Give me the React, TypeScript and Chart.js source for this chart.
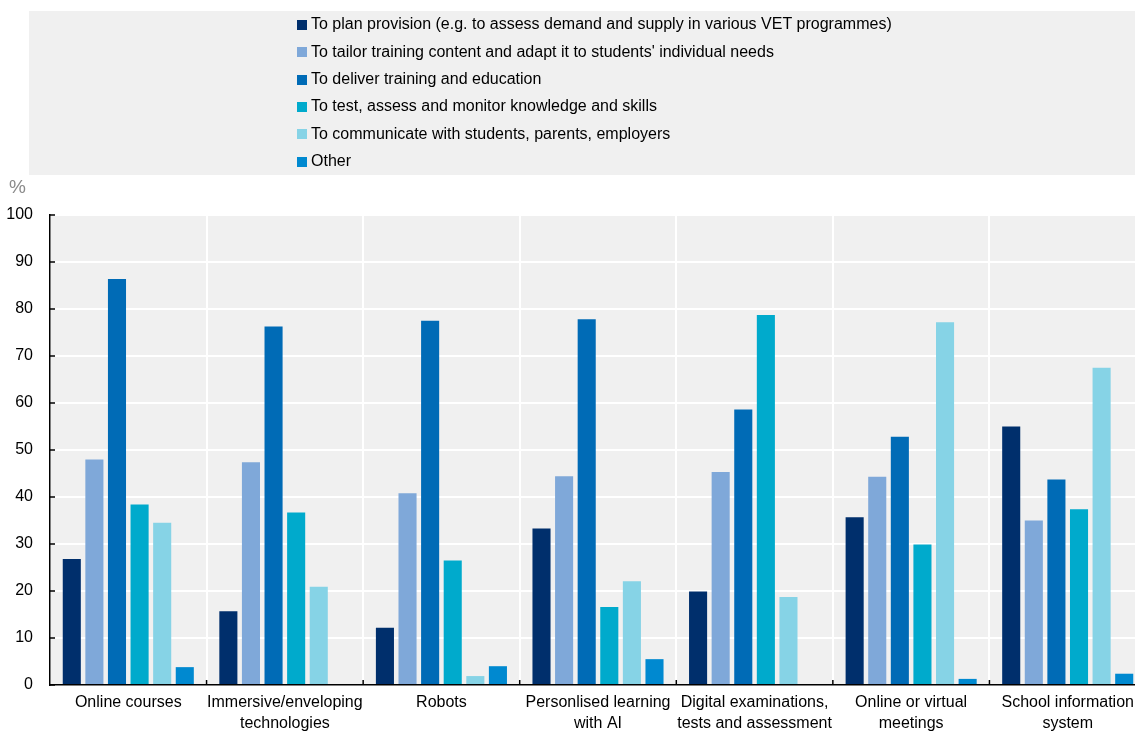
import React, { useEffect, useRef } from "react";
import { Chart, registerables } from "chart.js";

Chart.register(...registerables);

// Uses of digital technology, by type of technology (share of respondents, %)
const categories: (string | string[])[] = [
  "Online courses",
  ["Immersive/enveloping", "technologies"],
  "Robots",
  ["Personlised learning", "with AI"],
  ["Digital examinations,", "tests and assessment"],
  ["Online or virtual", "meetings"],
  ["School information", "system"],
];

const seriesLabels = [
  "To plan provision (e.g. to assess demand and supply in various VET programmes)",
  "To tailor training content and adapt it to students' individual needs",
  "To deliver training and education",
  "To test, assess and monitor knowledge and skills",
  "To communicate with students, parents, employers",
  "Other",
];

const seriesColors = ["#002f6c", "#7fa8d9", "#006bb6", "#00aacc", "#86d3e6", "#0089d0"];

const planProvision = [26.8, 15.7, 12.2, 33.3, 19.9, 35.7, 55.0];
const tailorContent = [48.0, 47.4, 40.8, 44.4, 45.3, 44.3, 35.0];
const deliverTraining = [86.4, 76.3, 77.5, 77.8, 58.6, 52.8, 43.7];
const testAssess = [38.4, 36.7, 26.5, 16.6, 78.7, 29.9, 37.4];
const communicate = [34.5, 20.9, 1.9, 22.1, 18.7, 77.2, 67.5];
const otherUse = [3.8, 0, 4.0, 5.5, 0, 1.3, 2.4];

const seriesValues = [planProvision, tailorContent, deliverTraining, testAssess, communicate, otherUse];

const yMin = 0;
const yMax = 100;
const yStep = 10;
const unitLabel = "%";

const FONT = "'Liberation Sans', Arial, Helvetica, sans-serif";
const PANEL = "#f0f0f0";

const decorations = {
  id: "decorations",
  beforeDraw(chart: any) {
    const { ctx, chartArea } = chart;
    ctx.save();
    // legend panel
    ctx.fillStyle = PANEL;
    ctx.fillRect(29, 11, chart.width - 29, 164);
    // plot panel
    ctx.fillRect(
      chartArea.left,
      chartArea.top,
      chartArea.right - chartArea.left,
      chartArea.bottom - chartArea.top
    );
    // legend entries
    ctx.font = `16px ${FONT}`;
    ctx.textBaseline = "middle";
    ctx.textAlign = "left";
    chart.data.datasets.forEach((ds: any, i: number) => {
      const y = 25 + i * 27.3;
      ctx.fillStyle = ds.backgroundColor;
      ctx.fillRect(297, Math.round(y - 5), 10, 10);
      ctx.fillStyle = "#000";
      ctx.fillText(ds.label, 311, y);
    });
    // unit above the value axis
    ctx.fillStyle = "#8a8a8a";
    ctx.font = `19px ${FONT}`;
    ctx.fillText(unitLabel, 9, 188);
    ctx.restore();
  },
  afterDatasetsDraw(chart: any) {
    const { ctx, chartArea, scales } = chart;
    const xs = scales.x;
    const ys = scales.y;
    ctx.save();
    ctx.strokeStyle = "#000";
    ctx.lineWidth = 1.5;
    ctx.beginPath();
    // inward tick marks on the value axis
    ys.ticks.forEach((t: any) => {
      const py = ys.getPixelForValue(t.value);
      ctx.moveTo(chartArea.left, py);
      ctx.lineTo(chartArea.left + 5, py);
    });
    // inward tick marks between categories
    const half = (xs.getPixelForValue(1) - xs.getPixelForValue(0)) / 2;
    for (let i = 1; i < categories.length; i++) {
      const px = xs.getPixelForValue(i) - half;
      ctx.moveTo(px, chartArea.bottom);
      ctx.lineTo(px, chartArea.bottom - 5);
    }
    ctx.stroke();
    ctx.restore();
  },
};

export default function App() {
  const canvasRef = useRef<HTMLCanvasElement | null>(null);

  useEffect(() => {
    if (!canvasRef.current) return;
    const chart = new Chart(canvasRef.current, {
      type: "bar",
      data: {
        labels: categories,
        datasets: seriesValues.map((values, i) => ({
          label: seriesLabels[i],
          data: values,
          backgroundColor: seriesColors[i],
          borderWidth: 0,
          barPercentage: 0.8,
          categoryPercentage: 0.866,
        })),
      },
      options: {
        responsive: false,
        devicePixelRatio: 1,
        animation: false,
        layout: { padding: { top: 215, right: 4, left: 0, bottom: 0 } },
        plugins: {
          legend: { display: false },
          tooltip: { enabled: false },
        },
        scales: {
          x: {
            afterFit: (s: any) => {
              s.height = 48;
            },
            grid: { color: "#ffffff", lineWidth: 2, drawTicks: false, offset: true },
            border: { display: true, color: "#000", width: 1.5 },
            ticks: {
              color: "#000",
              padding: 7,
              maxRotation: 0,
              autoSkip: false,
              font: { family: FONT, size: 16, lineHeight: 1.3 },
            },
          },
          y: {
            min: yMin,
            max: yMax,
            afterFit: (s: any) => {
              s.width = 50;
            },
            grid: { color: "#ffffff", lineWidth: 2, drawTicks: false },
            border: { display: true, color: "#000", width: 1.5 },
            ticks: {
              stepSize: yStep,
              color: "#000",
              padding: 17,
              font: { family: FONT, size: 16 },
            },
          },
        },
      },
      plugins: [decorations],
    });
    return () => chart.destroy();
  }, []);

  return (
    <div
      style={{
        position: "fixed",
        left: 0,
        top: 0,
        width: 1135,
        height: 733,
        overflow: "hidden",
        background: "#fff",
      }}
    >
      <canvas ref={canvasRef} width={1150} height={733} style={{ display: "block" }} />
    </div>
  );
}
